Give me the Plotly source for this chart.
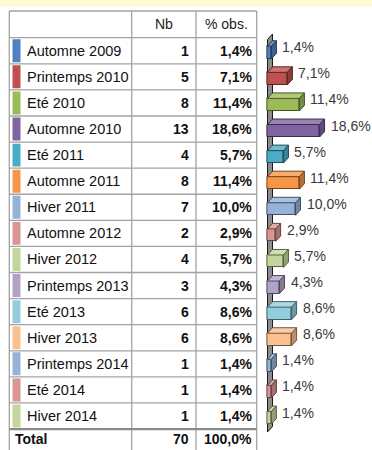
import plotly.graph_objects as go

# ---- data -------------------------------------------------------------
periods = ["Automne 2009", "Printemps 2010", "Eté 2010", "Automne 2010",
           "Eté 2011", "Automne 2011", "Hiver 2011", "Automne 2012",
           "Hiver 2012", "Printemps 2013", "Eté 2013", "Hiver 2013",
           "Printemps 2014", "Eté 2014", "Hiver 2014"]
counts = [1, 5, 8, 13, 4, 8, 7, 2, 4, 3, 6, 6, 1, 1, 1]
shares = [1.4, 7.1, 11.4, 18.6, 5.7, 11.4, 10.0, 2.9, 5.7, 4.3, 8.6, 8.6, 1.4, 1.4, 1.4]
total_label = "Total"
total_count = 70
total_share = 100.0
header = ["", "Nb", "% obs."]
title_text = "Durée habitation"
colors = ["#4F81BD", "#C0504D", "#9BBB59", "#8064A2", "#4BACC6", "#F79646",
          "#95B3D7", "#D99694", "#C3D69B", "#B3A2C7", "#93CDDD", "#FAC090",
          "#95B3D7", "#D99694", "#C3D69B"]

# ---- helpers ----------------------------------------------------------
W, H = 372, 450
ROW = 26.09          # row height in px
Y0 = 50.75           # px centre of first data row
FONT = "Liberation Sans, Arial, Helvetica, sans-serif"


def r_of(px):
    return (px - Y0) / ROW


def shade(hex_color, f):
    h = hex_color.lstrip("#")
    rgb = [int(h[i:i + 2], 16) for i in (0, 2, 4)]
    if f >= 0:
        rgb = [round(c + (255 - c) * f) for c in rgb]
    else:
        rgb = [round(c * (1 + f)) for c in rgb]
    return "#%02x%02x%02x" % tuple(rgb)


def pct(v):
    return f"{v:.1f}".replace(".", ",") + "%"


TABLE_DOMAIN = 0.70
table_w = TABLE_DOMAIN * W
ORIGIN_PX, PX_PER_PCT = 267.5, 2.8
x_lo = (table_w - ORIGIN_PX) / PX_PER_PCT
x_hi = (W - ORIGIN_PX) / PX_PER_PCT
DX = 5 / PX_PER_PCT            # depth of the 3D effect in % units
DY = 5.5 / ROW                 # depth of the 3D effect in row units
BAR_OFF = -4.5 / ROW
BAR_W = 12.5 / ROW

n = len(periods)
rows = list(range(n))

fig = go.Figure()

# front faces
fig.add_trace(go.Bar(
    x=shares, y=rows, orientation="h", base=0,
    width=BAR_W, offset=BAR_OFF,
    marker=dict(color=colors, line=dict(color=[shade(c, -0.55) for c in colors], width=1)),
    hoverinfo="skip", showlegend=False, xaxis="x", yaxis="y",
))

# top and side faces
for r, v, c in zip(rows, shares, colors):
    top = r + BAR_OFF
    bot = top + BAR_W
    edge = shade(c, -0.55)
    fig.add_trace(go.Scatter(
        x=[0, v, v + DX, DX, 0], y=[top, top, top - DY, top - DY, top],
        fill="toself", mode="lines", fillcolor=shade(c, 0.2),
        line=dict(color=edge, width=1), hoverinfo="skip", showlegend=False,
        xaxis="x", yaxis="y"))
    fig.add_trace(go.Scatter(
        x=[v, v + DX, v + DX, v, v], y=[top, top - DY, bot - DY, bot, top],
        fill="toself", mode="lines", fillcolor=shade(c, -0.25),
        line=dict(color=edge, width=1), hoverinfo="skip", showlegend=False,
        xaxis="x", yaxis="y"))

shapes = []
annotations = []

# back wall of the 3D chart
wall_top, wall_bot = r_of(39.5), r_of(432)
shapes.append(dict(
    type="path", xref="x", yref="y", layer="below",
    path=f"M 0,{wall_bot} L 0,{wall_top} L {DX},{wall_top - DY} L {DX},{wall_bot - DY} Z",
    fillcolor="#8c8c8c", line=dict(color="#1a1a1a", width=1)))

# value labels next to the bars
for r, v in zip(rows, shares):
    annotations.append(dict(
        x=v + DX, y=r - 3.5 / ROW, xref="x", yref="y", xanchor="left", yanchor="middle",
        xshift=4, text=pct(v), showarrow=False,
        font=dict(family=FONT, size=14, color="#3a3a3a")))

# ---- table ------------------------------------------------------------
col_x = [9.3, 131.7, 196.0, 256.7]
top_px = 11.0
head_bot = Y0 - ROW / 2
grid = "#a3a3a3"

# banner strip (its heading runs off the top edge)
shapes.append(dict(type="rect", xref="paper", yref="paper", x0=0, x1=1,
                   y0=1 - 6.5 / H, y1=1, fillcolor="#fdfbd2", line=dict(width=0),
                   layer="below"))
annotations.append(dict(x=10, y=1, xref="x2", yref="paper", xanchor="left", yanchor="bottom",
                        yshift=-4.5, text=title_text, showarrow=False,
                        font=dict(family=FONT, size=13, color="#9a9a88")))

# colour swatches
for r, c in zip(rows, colors):
    shapes.append(dict(type="rect", xref="x2", yref="y", x0=12.5, x1=20.5,
                       y0=r - 0.5 + 0.06, y1=r + 0.5 - 0.06,
                       fillcolor=c, line=dict(width=0)))

# grid lines
for x in col_x:
    shapes.append(dict(type="line", xref="x2", yref="y", x0=x, x1=x,
                       y0=r_of(top_px), y1=r_of(H + 10), line=dict(color=grid, width=1.3)))
shapes.append(dict(type="line", xref="x2", yref="y", x0=col_x[0], x1=col_x[-1],
                   y0=r_of(top_px), y1=r_of(top_px), line=dict(color=grid, width=1.3)))
for k in range(n + 1):
    yy = k - 0.5
    shapes.append(dict(type="line", xref="x2", yref="y", x0=col_x[0], x1=col_x[-1],
                       y0=yy, y1=yy,
                       line=dict(color="#8a8a8a" if k == n else grid,
                                 width=2.2 if k == n else 1.3)))

# header
head_r = r_of((top_px + head_bot) / 2)
for i, h in enumerate(header):
    if h:
        annotations.append(dict(x=(col_x[i] + col_x[i + 1]) / 2, y=head_r, xref="x2", yref="y",
                                xanchor="center", yanchor="middle", text=h, showarrow=False,
                                font=dict(family=FONT, size=14, color="#222222")))

# body rows
for r, lab, cnt, v in zip(rows, periods, counts, shares):
    annotations.append(dict(x=25, y=r, xref="x2", yref="y", xanchor="left", yanchor="middle",
                            text=lab, showarrow=False,
                            font=dict(family=FONT, size=14.5, color="#111111")))
    annotations.append(dict(x=col_x[2] - 5.5, y=r, xref="x2", yref="y", xanchor="right",
                            yanchor="middle", text=f"<b>{cnt}</b>", showarrow=False,
                            font=dict(family=FONT, size=14, color="#111111")))
    annotations.append(dict(x=col_x[3] - 3, y=r, xref="x2", yref="y", xanchor="right",
                            yanchor="middle", text=f"<b>{pct(v)}</b>", showarrow=False,
                            font=dict(family=FONT, size=14, color="#111111")))

# total row
tr = n - 0.1
annotations.append(dict(x=13, y=tr, xref="x2", yref="y", xanchor="left", yanchor="middle",
                        text=f"<b>{total_label}</b>", showarrow=False,
                        font=dict(family=FONT, size=14, color="#111111")))
annotations.append(dict(x=col_x[2] - 5.5, y=tr, xref="x2", yref="y", xanchor="right",
                        yanchor="middle", text=f"<b>{total_count}</b>", showarrow=False,
                        font=dict(family=FONT, size=14, color="#111111")))
annotations.append(dict(x=col_x[3] - 3, y=tr, xref="x2", yref="y", xanchor="right",
                        yanchor="middle", text=f"<b>{pct(total_share)}</b>", showarrow=False,
                        font=dict(family=FONT, size=14, color="#111111")))

axis_off = dict(visible=False, showgrid=False, zeroline=False, fixedrange=True)
fig.update_layout(
    width=W, height=H, margin=dict(l=0, r=0, t=0, b=0),
    paper_bgcolor="white", plot_bgcolor="white",
    xaxis=dict(domain=[TABLE_DOMAIN, 1], range=[x_lo, x_hi], anchor="y", **axis_off),
    xaxis2=dict(domain=[0, TABLE_DOMAIN], range=[0, table_w], anchor="y", **axis_off),
    yaxis=dict(domain=[0, 1], range=[r_of(H), r_of(0)], **axis_off),
    shapes=shapes, annotations=annotations, bargap=0,
)

fig.write_html("out.html")
